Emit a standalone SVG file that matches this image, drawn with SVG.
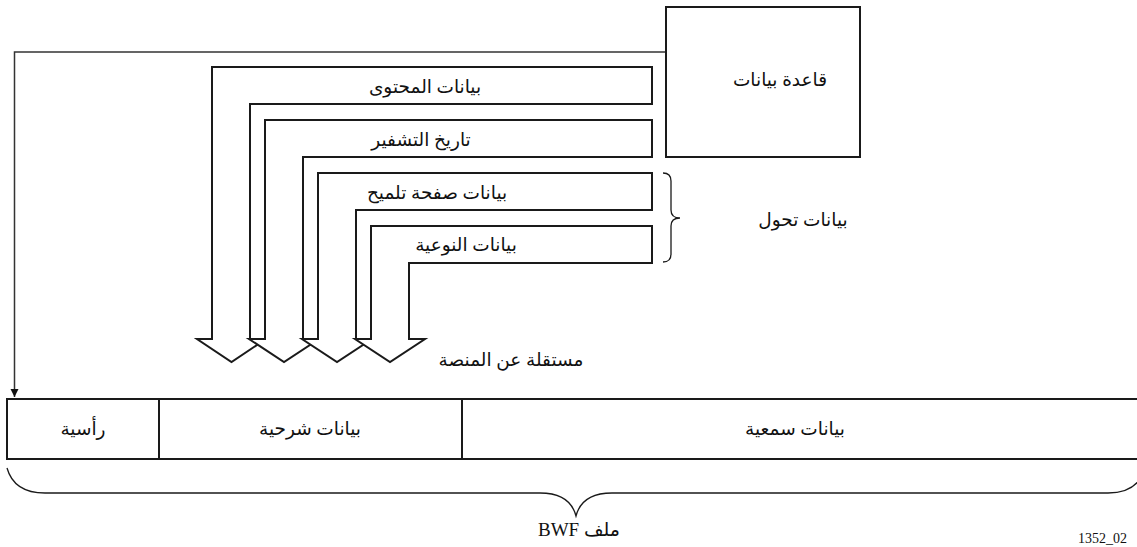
<svg xmlns="http://www.w3.org/2000/svg" width="1137" height="547" viewBox="0 0 1137 547">
  <style>
    .box { fill: #ffffff; stroke: #1a1a1a; stroke-width: 2; }
    .arrow { fill: #ffffff; stroke: #1a1a1a; stroke-width: 2; stroke-linejoin: miter; }
    .line { fill: none; stroke: #333333; stroke-width: 1.5; }
    .brace { fill: none; stroke: #1a1a1a; stroke-width: 1.3; }
    .ar { font-family: "Liberation Serif", "DejaVu Sans", serif; font-size: 18.5px; fill: #111111; text-anchor: middle; }
    .lat { font-family: "Liberation Serif", "DejaVu Sans", serif; font-size: 19px; fill: #111111; text-anchor: middle; }
  </style>
  <defs>
    <marker id="ah" viewBox="0 0 10 10" refX="10" refY="5" markerWidth="8" markerHeight="16" markerUnits="userSpaceOnUse" orient="auto">
      <path d="M0,0 L10,5 L0,10 Z" fill="#111111"/>
    </marker>
  </defs>

  <g id="connectors">
    <path class="line" d="M666,52 L14.5,52 L14.5,397" marker-end="url(#ah)"/>
  </g>

  <g id="database">
    <rect class="box" x="666" y="7" width="194" height="150"/>
    <text class="ar" x="780" y="86" direction="rtl">قاعدة بيانات</text>
  </g>

  <g id="arrow-content">
    <polygon class="arrow" points="652,67 212,67 212,339 197,339 231.5,362 266,339 250,339 250,104 652,104"/>
    <text class="ar" x="425" y="93" direction="rtl">بيانات المحتوى</text>
  </g>
  <g id="arrow-history">
    <polygon class="arrow" points="652,120 265,120 265,339 249,339 284,362 319,339 303,339 303,157 652,157"/>
    <text class="ar" x="421" y="146" direction="rtl">تاريخ التشفير</text>
  </g>
  <g id="arrow-hint">
    <polygon class="arrow" points="652,173 318,173 318,339 302,339 337,362 372,339 356,339 356,210 652,210"/>
    <text class="ar" x="437" y="199" direction="rtl">بيانات صفحة تلميح</text>
  </g>
  <g id="arrow-quality">
    <polygon class="arrow" points="652,226 371,226 371,339 355,339 390,362 425,339 409,339 409,263 652,263"/>
    <text class="ar" x="466" y="251" direction="rtl">بيانات النوعية</text>
  </g>

  <g id="platform-label">
    <text class="ar" x="511" y="366" direction="rtl">مستقلة عن المنصة</text>
  </g>

  <g id="transition">
    <path class="brace" d="M663,173 Q671,173 671,181 L671,210 Q671,218 680,218 Q671,218 671,226 L671,254 Q671,262 663,262"/>
    <text class="ar" x="803" y="226" direction="rtl">بيانات تحول</text>
  </g>

  <g id="bwf-file">
    <rect class="box" x="7" y="399" width="1145" height="60"/>
    <line class="box" x1="159" y1="399" x2="159" y2="459"/>
    <line class="box" x1="462" y1="399" x2="462" y2="459"/>
    <text class="ar" x="83" y="435" direction="rtl">رأسية</text>
    <text class="ar" x="310" y="435" direction="rtl">بيانات شرحية</text>
    <text class="ar" x="795" y="435" direction="rtl">بيانات سمعية</text>
  </g>

  <g id="file-brace">
    <path class="brace" d="M7,468 Q14,493 45,493 L540,493 Q570,493 576,516 Q582,493 612,493 L1108,493 Q1138,493 1145,468"/>
    <text class="lat" x="579" y="536" direction="rtl">ملف BWF</text>
  </g>

  <g id="figure-number">
    <text font-family="Liberation Serif, serif" font-size="14" fill="#111111" x="1078" y="543">1352_02</text>
  </g>
</svg>
